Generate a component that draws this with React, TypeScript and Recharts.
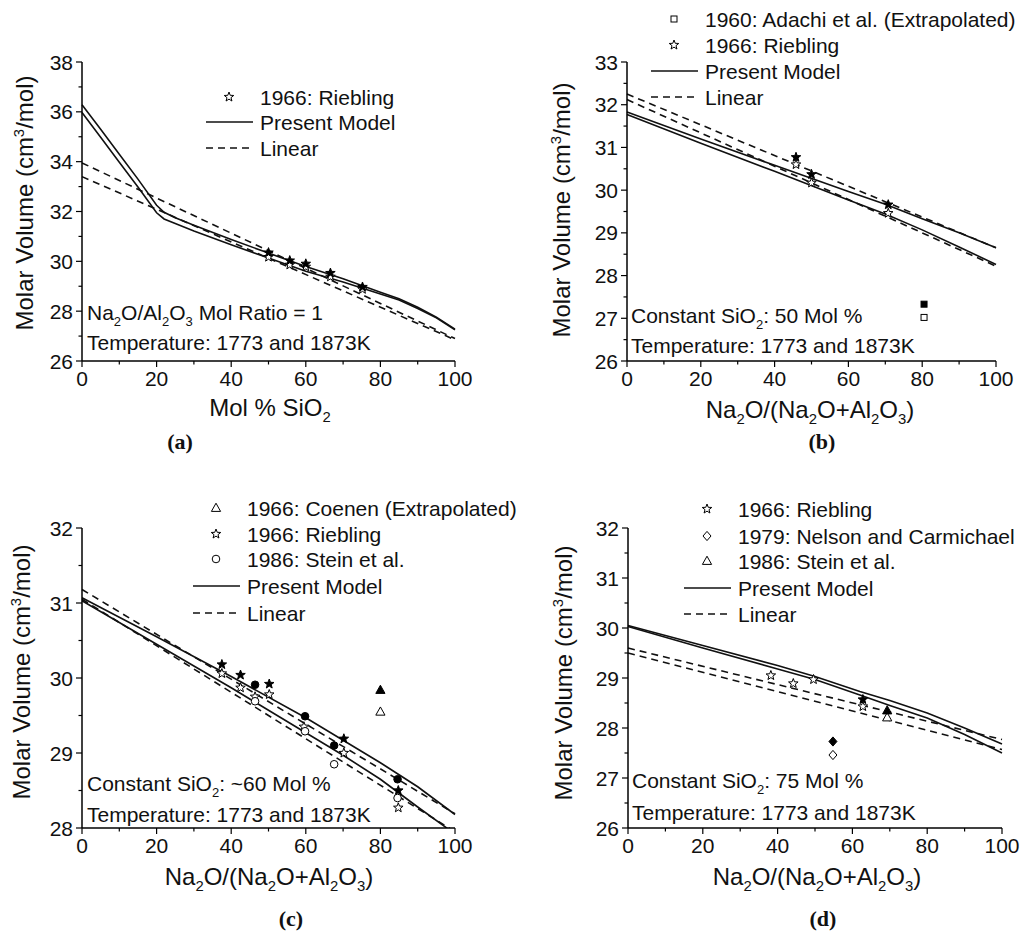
import React from "react";
import { ComposedChart, Line, Scatter, XAxis, YAxis } from "recharts";

const FONT = "'Liberation Sans', Arial, Helvetica, sans-serif";
const SERIF = "'Liberation Serif', 'Times New Roman', serif";

// shared x ticks (0..100, labels every 20)
const xTicks = [0, 10, 20, 30, 40, 50, 60, 70, 80, 90, 100];

// (a) Na2O/Al2O3 = 1, x = mol % SiO2
const aX = [0, 5, 10, 15, 20, 22, 25, 30, 40, 50, 60, 70, 80, 85, 90, 95, 100];
const aModelHigh = [36.28, 35.3, 34.3, 33.3, 32.25, 31.97, 31.75, 31.45, 30.88, 30.33, 29.79, 29.3, 28.76, 28.5, 28.16, 27.76, 27.28];
const aModelLow = [35.97, 34.98, 33.98, 32.98, 31.95, 31.7, 31.52, 31.22, 30.67, 30.13, 29.6, 29.17, 28.69, 28.45, 28.11, 27.73, 27.25];
const aLinX = [0, 100];
const aLinHigh = [33.95, 26.9];
const aLinLow = [33.4, 26.85];
const aStarX = [50, 55.7, 60, 66.6, 75.2];
const aStarFilled = [30.35, 30.03, 29.9, 29.53, 28.97];
const aStarOpen = [30.17, 29.86, 29.78, 29.38, 28.88];
const aYTicks = [26, 27, 28, 29, 30, 31, 32, 33, 34, 35, 36, 37, 38];

// (b) constant SiO2 50 mol %
const bX = [0, 20, 40, 60, 70, 80, 90, 100];
const bModelHigh = [31.83, 31.2, 30.58, 29.97, 29.67, 29.33, 29.0, 28.65];
const bModelLow = [31.77, 31.1, 30.44, 29.77, 29.44, 29.07, 28.67, 28.26];
const bLinX = [0, 100];
const bLinHigh = [32.25, 28.65];
const bLinLow = [32.12, 28.22];
const bStarX = [45.8, 50, 70.8];
const bStarFilled = [30.77, 30.37, 29.66];
const bStarOpen = [30.6, 30.17, 29.46];
const bSquareX = [80.5];
const bSquareFilled = [27.33];
const bSquareOpen = [27.02];
const bYTicks = [26, 26.5, 27, 27.5, 28, 28.5, 29, 29.5, 30, 30.5, 31, 31.5, 32, 32.5, 33];

// (c) constant SiO2 ~60 mol %
const cX = [0, 20, 40, 60, 70, 80, 90, 100];
const cModelHigh = [31.07, 30.55, 30.02, 29.47, 29.17, 28.87, 28.55, 28.18];
const cModelLow = [31.03, 30.45, 29.87, 29.27, 28.97, 28.65, 28.28, 27.92];
const cLinX = [0, 100];
const cLinHigh = [31.18, 28.19];
const cLinLow = [31.05, 27.95];
const cStarFilledX = [37.5, 42.5, 50.2, 70.2, 84.8];
const cStarFilled = [30.18, 30.04, 29.92, 29.19, 28.5];
const cStarOpenX = [37.5, 42.5, 46.4, 50.2, 59.5, 70.2, 84.8];
const cStarOpen = [30.06, 29.87, 29.75, 29.78, 29.35, 29.0, 28.27];
const cCircleX = [46.4, 59.8, 67.6, 84.6];
const cCircleFilled = [29.91, 29.49, 29.1, 28.65];
const cCircleOpen = [29.69, 29.29, 28.85, 28.4];
const cTriX = [80];
const cTriFilled = [29.84];
const cTriOpen = [29.55];
const cYTicks = [28, 28.5, 29, 29.5, 30, 30.5, 31, 31.5, 32];

// (d) constant SiO2 75 mol %
const dX = [0, 20, 40, 50, 62, 70, 80, 90, 100];
const dModelHigh = [30.05, 29.65, 29.25, 29.03, 28.73, 28.55, 28.3, 28.0, 27.68];
const dModelLow = [30.03, 29.6, 29.18, 28.97, 28.66, 28.45, 28.2, 27.87, 27.5];
const dLinX = [0, 100];
const dLinHigh = [29.6, 27.77];
const dLinLow = [29.5, 27.57];
const dStarOpenX = [38.2, 44.2, 49.6, 62.8];
const dStarOpen = [29.05, 28.89, 28.97, 28.43];
const dStarFilledX = [62.8];
const dStarFilled = [28.57];
const dDiamondX = [54.8];
const dDiamondFilled = [27.73];
const dDiamondOpen = [27.46];
const dTriX = [69.3];
const dTriFilled = [28.35];
const dTriOpen = [28.21];
const dYTicks = [26, 26.5, 27, 27.5, 28, 28.5, 29, 29.5, 30, 30.5, 31, 31.5, 32];

const pts = (xs: number[], ys: number[]) => xs.map((x, i) => ({ x, y: ys[i] }));

type Kind = "star" | "circle" | "triangle" | "square" | "diamond";

function Marker({ kind, filled, cx, cy }: { kind: Kind; filled: boolean; cx: number; cy: number }) {
  const fill = filled ? "#000" : "#fff";
  const common = { fill, stroke: "#000", strokeWidth: 1 };
  if (kind === "star") {
    const p: string[] = [];
    for (let i = 0; i < 10; i++) {
      const r = i % 2 === 0 ? 5 : 2.1;
      const a = ((-90 + i * 36) * Math.PI) / 180;
      p.push(`${cx + r * Math.cos(a)},${cy + r * Math.sin(a)}`);
    }
    return <polygon points={p.join(" ")} {...common} />;
  }
  if (kind === "circle") return <circle cx={cx} cy={cy} r={3.8} {...common} />;
  if (kind === "triangle")
    return <polygon points={`${cx},${cy - 4.8} ${cx + 4.6},${cy + 3.4} ${cx - 4.6},${cy + 3.4}`} {...common} />;
  if (kind === "square") return <rect x={cx - 3} y={cy - 3} width={6} height={6} {...common} />;
  return <polygon points={`${cx},${cy - 4.6} ${cx + 4},${cy} ${cx},${cy + 4.6} ${cx - 4},${cy}`} {...common} />;
}

type LineDef = { data: { x: number; y: number }[]; dashed?: boolean };
type ScatterDef = { data: { x: number; y: number }[]; kind: Kind; filled: boolean };

type PanelDef = {
  left: number;
  top: number;
  margin: { top: number; right: number; bottom: number; left: number };
  yDomain: [number, number];
  yTicks: number[];
  yStep: number;
  lines: LineDef[];
  scatters: ScatterDef[];
};

const isMajor = (v: number, step: number) => Math.abs(v / step - Math.round(v / step)) < 1e-6;

function Panel({ p }: { p: PanelDef }) {
  const yTick = (props: any) => {
    const { x, y, payload } = props;
    const major = isMajor(payload.value, p.yStep);
    return (
      <g>
        <line x1={x - (major ? 6 : 3.5)} x2={x} y1={y} y2={y} stroke="#000" strokeWidth={1.2} />
        {major && (
          <text x={x - 9} y={y} dy="0.36em" textAnchor="end" fontSize={21} fontFamily={FONT} fill="#111">
            {payload.value}
          </text>
        )}
      </g>
    );
  };
  const xTick = (props: any) => {
    const { x, y, payload } = props;
    const major = isMajor(payload.value, 20);
    return (
      <g>
        <line x1={x} x2={x} y1={y} y2={y + (major ? 6 : 3.5)} stroke="#000" strokeWidth={1.2} />
        {major && (
          <text x={x} y={y + 9} dy="0.75em" textAnchor="middle" fontSize={21} fontFamily={FONT} fill="#111">
            {payload.value}
          </text>
        )}
      </g>
    );
  };
  return (
    <div style={{ position: "absolute", left: p.left, top: p.top }}>
      <ComposedChart width={514} height={466} margin={p.margin}>
        <XAxis
          dataKey="x"
          type="number"
          domain={[0, 100]}
          ticks={xTicks}
          interval={0}
          tick={xTick}
          tickSize={0}
          tickMargin={0}
          tickLine={false}
          axisLine={{ stroke: "#000", strokeWidth: 1.5 }}
          height={30}
        />
        <YAxis
          dataKey="y"
          type="number"
          domain={p.yDomain}
          ticks={p.yTicks}
          interval={0}
          allowDataOverflow
          tick={yTick}
          tickSize={0}
          tickMargin={0}
          tickLine={false}
          axisLine={{ stroke: "#000", strokeWidth: 1.5 }}
          width={50}
        />
        {p.lines.map((l, i) => (
          <Line
            key={`l${i}`}
            data={l.data}
            dataKey="y"
            type="linear"
            stroke="#111"
            strokeWidth={1.6}
            strokeDasharray={l.dashed ? "7 5" : undefined}
            dot={false}
            activeDot={false}
            isAnimationActive={false}
          />
        ))}
        {p.scatters.map((s, i) => (
          <Scatter
            key={`s${i}`}
            data={s.data}
            dataKey="y"
            isAnimationActive={false}
            shape={(props: any) => <Marker kind={s.kind} filled={s.filled} cx={props.cx} cy={props.cy} />}
          />
        ))}
      </ComposedChart>
    </div>
  );
}

const panels: PanelDef[] = [
  {
    left: 0,
    top: 0,
    margin: { top: 62, right: 59, bottom: 75, left: 32 },
    yDomain: [26, 38],
    yTicks: aYTicks,
    yStep: 2,
    lines: [
      { data: pts(aX, aModelHigh) },
      { data: pts(aX, aModelLow) },
      { data: pts(aLinX, aLinHigh), dashed: true },
      { data: pts(aLinX, aLinLow), dashed: true },
    ],
    scatters: [
      { data: pts(aStarX, aStarOpen), kind: "star", filled: false },
      { data: pts(aStarX, aStarFilled), kind: "star", filled: true },
    ],
  },
  {
    left: 514,
    top: 0,
    margin: { top: 62, right: 32, bottom: 75, left: 63 },
    yDomain: [26, 33],
    yTicks: bYTicks,
    yStep: 1,
    lines: [
      { data: pts(bX, bModelHigh) },
      { data: pts(bX, bModelLow) },
      { data: pts(bLinX, bLinHigh), dashed: true },
      { data: pts(bLinX, bLinLow), dashed: true },
    ],
    scatters: [
      { data: pts(bStarX, bStarOpen), kind: "star", filled: false },
      { data: pts(bStarX, bStarFilled), kind: "star", filled: true },
      { data: pts(bSquareX, bSquareOpen), kind: "square", filled: false },
      { data: pts(bSquareX, bSquareFilled), kind: "square", filled: true },
    ],
  },
  {
    left: 0,
    top: 466,
    margin: { top: 62, right: 59, bottom: 74, left: 32 },
    yDomain: [28, 32],
    yTicks: cYTicks,
    yStep: 1,
    lines: [
      { data: pts(cX, cModelHigh) },
      { data: pts(cX, cModelLow) },
      { data: pts(cLinX, cLinHigh), dashed: true },
      { data: pts(cLinX, cLinLow), dashed: true },
    ],
    scatters: [
      { data: pts(cStarOpenX, cStarOpen), kind: "star", filled: false },
      { data: pts(cStarFilledX, cStarFilled), kind: "star", filled: true },
      { data: pts(cCircleX, cCircleOpen), kind: "circle", filled: false },
      { data: pts(cCircleX, cCircleFilled), kind: "circle", filled: true },
      { data: pts(cTriX, cTriOpen), kind: "triangle", filled: false },
      { data: pts(cTriX, cTriFilled), kind: "triangle", filled: true },
    ],
  },
  {
    left: 514,
    top: 466,
    margin: { top: 62, right: 26, bottom: 74, left: 64 },
    yDomain: [26, 32],
    yTicks: dYTicks,
    yStep: 1,
    lines: [
      { data: pts(dX, dModelHigh) },
      { data: pts(dX, dModelLow) },
      { data: pts(dLinX, dLinHigh), dashed: true },
      { data: pts(dLinX, dLinLow), dashed: true },
    ],
    scatters: [
      { data: pts(dStarOpenX, dStarOpen), kind: "star", filled: false },
      { data: pts(dStarFilledX, dStarFilled), kind: "star", filled: true },
      { data: pts(dDiamondX, dDiamondOpen), kind: "diamond", filled: false },
      { data: pts(dDiamondX, dDiamondFilled), kind: "diamond", filled: true },
      { data: pts(dTriX, dTriOpen), kind: "triangle", filled: false },
      { data: pts(dTriX, dTriFilled), kind: "triangle", filled: true },
    ],
  },
];

// text with sub/superscripts: [text, "n" | "sub" | "sup"]
type Seg = [string, "n" | "sub" | "sup"];
function rich(segs: Seg[]) {
  let shift = 0;
  return segs.map(([t, k], i) => {
    const target = k === "sub" ? 6 : k === "sup" ? -9 : 0;
    const dy = target - shift;
    shift = target;
    return (
      <tspan key={i} dy={dy} fontSize={k === "n" ? undefined : "0.62em"}>
        {t}
      </tspan>
    );
  });
}

const naTitle: Seg[] = [["Na", "n"], ["2", "sub"], ["O/(Na", "n"], ["2", "sub"], ["O+Al", "n"], ["2", "sub"], ["O", "n"], ["3", "sub"], [")", "n"]];
const yTitle: Seg[] = [["Molar Volume (cm", "n"], ["3", "sup"], ["/mol)", "n"]];

function YTitle({ x, y }: { x: number; y: number }) {
  return (
    <text x={x} y={y} transform={`rotate(-90 ${x} ${y})`} textAnchor="middle" fontSize={24}>
      {rich(yTitle)}
    </text>
  );
}

function LegendRow({ x, y, kind, text }: { x: number; y: number; kind: Kind | "solid" | "dashed"; text: string }) {
  return (
    <g>
      {kind === "solid" && <line x1={x - 54} x2={x - 7} y1={y} y2={y} stroke="#111" strokeWidth={1.6} />}
      {kind === "dashed" && <line x1={x - 54} x2={x - 7} y1={y} y2={y} stroke="#111" strokeWidth={1.6} strokeDasharray="7 5" />}
      {kind !== "solid" && kind !== "dashed" && <Marker kind={kind} filled={false} cx={x - 31} cy={y} />}
      <text x={x} y={y + 7.5} fontSize={21}>
        {text}
      </text>
    </g>
  );
}

export default function App() {
  return (
    <div style={{ position: "absolute", left: 0, top: 0, width: 1028, height: 932, background: "#fff" }}>
      {panels.map((p, i) => (
        <Panel key={i} p={p} />
      ))}
      <svg width={1028} height={932} style={{ position: "absolute", left: 0, top: 0, pointerEvents: "none" }} fontFamily={FONT} fill="#111">
        {/* (a) */}
        <YTitle x={33} y={203} />
        <text x={270} y={416} textAnchor="middle" fontSize={24}>
          {rich([["Mol % SiO", "n"], ["2", "sub"]])}
        </text>
        <text x={180} y={449} textAnchor="middle" fontSize={22} fontFamily={SERIF} fontWeight="bold">(a)</text>
        <LegendRow x={260} y={97} kind="star" text="1966: Riebling" />
        <LegendRow x={260} y={122} kind="solid" text="Present Model" />
        <LegendRow x={260} y={148} kind="dashed" text="Linear" />
        <text x={87} y={320} fontSize={21}>
          {rich([["Na", "n"], ["2", "sub"], ["O/Al", "n"], ["2", "sub"], ["O", "n"], ["3", "sub"], [" Mol Ratio = 1", "n"]])}
        </text>
        <text x={87} y={350} fontSize={21}>Temperature: 1773 and 1873K</text>

        {/* (b) */}
        <YTitle x={570} y={210} />
        <text x={810} y={418} textAnchor="middle" fontSize={24}>{rich(naTitle)}</text>
        <text x={822} y={449} textAnchor="middle" fontSize={22} fontFamily={SERIF} fontWeight="bold">(b)</text>
        <LegendRow x={705} y={19} kind="square" text="1960: Adachi et al. (Extrapolated)" />
        <LegendRow x={705} y={45} kind="star" text="1966: Riebling" />
        <LegendRow x={705} y={71} kind="solid" text="Present Model" />
        <LegendRow x={705} y={97} kind="dashed" text="Linear" />
        <text x={631} y={323} fontSize={21}>
          {rich([["Constant SiO", "n"], ["2", "sub"], [": 50 Mol %", "n"]])}
        </text>
        <text x={631} y={353} fontSize={21}>Temperature: 1773 and 1873K</text>

        {/* (c) */}
        <YTitle x={30} y={672} />
        <text x={269} y={885} textAnchor="middle" fontSize={24}>{rich(naTitle)}</text>
        <text x={291} y={926} textAnchor="middle" fontSize={22} fontFamily={SERIF} fontWeight="bold">(c)</text>
        <LegendRow x={247} y={508} kind="triangle" text="1966: Coenen (Extrapolated)" />
        <LegendRow x={247} y={534} kind="star" text="1966: Riebling" />
        <LegendRow x={247} y={559} kind="circle" text="1986: Stein et al." />
        <LegendRow x={247} y={586} kind="solid" text="Present Model" />
        <LegendRow x={247} y={613} kind="dashed" text="Linear" />
        <text x={87} y={791} fontSize={21}>
          {rich([["Constant SiO", "n"], ["2", "sub"], [": ~60 Mol %", "n"]])}
        </text>
        <text x={87} y={822} fontSize={21}>Temperature: 1773 and 1873K</text>

        {/* (d) */}
        <YTitle x={572} y={673} />
        <text x={817} y={885} textAnchor="middle" fontSize={24}>{rich(naTitle)}</text>
        <text x={823} y={926} textAnchor="middle" fontSize={22} fontFamily={SERIF} fontWeight="bold">(d)</text>
        <LegendRow x={738} y={509} kind="star" text="1966: Riebling" />
        <LegendRow x={738} y={536} kind="diamond" text="1979: Nelson and Carmichael" />
        <LegendRow x={738} y={561} kind="triangle" text="1986: Stein et al." />
        <LegendRow x={738} y={588} kind="solid" text="Present Model" />
        <LegendRow x={738} y={614} kind="dashed" text="Linear" />
        <text x={632} y={788} fontSize={21}>
          {rich([["Constant SiO", "n"], ["2", "sub"], [": 75 Mol %", "n"]])}
        </text>
        <text x={632} y={820} fontSize={21}>Temperature: 1773 and 1873K</text>
      </svg>
    </div>
  );
}
